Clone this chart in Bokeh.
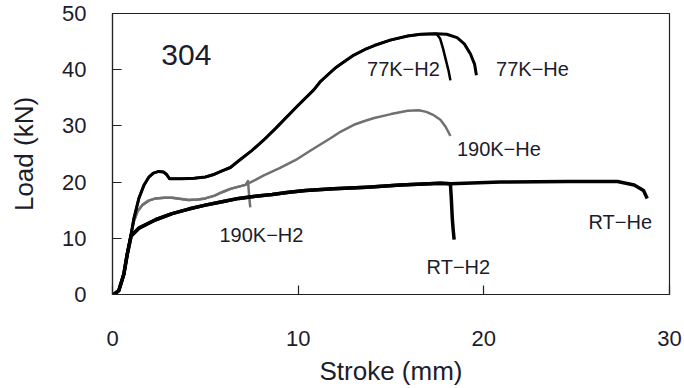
from bokeh.plotting import figure
from bokeh.models import FixedTicker, ColumnDataSource
from bokeh.core.properties import value
from bokeh.embed import file_html
from bokeh.resources import INLINE

# ---- data (Stroke mm, Load kN) ----
x_77k_h2 = [0.07, 0.34, 0.61, 0.79, 0.97, 1.15, 1.42, 1.7, 1.96, 2.2, 2.49, 2.75, 2.9, 3.07, 3.4, 3.75,
            4.4, 5.0, 5.5, 5.9, 6.35, 6.8, 7.5, 8.15, 8.8, 9.95, 10.84, 11.2, 12.0, 12.3, 13.0, 13.6, 14.1,
            15.0, 15.9, 16.6, 17.45, 17.65, 17.8, 17.95, 18.1, 18.2]
y_77k_h2 = [0, 0.7, 3.6, 7.1, 10.2, 13.5, 17.1, 19.5, 20.9, 21.6, 21.9, 21.8, 21.4, 20.6, 20.6, 20.6,
            20.7, 20.9, 21.4, 22.0, 22.6, 23.8, 25.6, 27.5, 29.6, 33.5, 36.4, 37.9, 40.3, 41.0, 42.6, 43.6, 44.3,
            45.3, 46.0, 46.3, 46.4, 45.5, 43.8, 41.8, 39.8, 38.1]
x_77k_he = [0.07, 0.34, 0.61, 0.79, 0.97, 1.15, 1.42, 1.7, 1.96, 2.2, 2.49, 2.75, 2.9, 3.07, 3.4, 3.75,
            4.4, 5.0, 5.5, 5.9, 6.35, 6.8, 7.5, 8.15, 8.8, 9.95, 10.84, 11.2, 12.0, 12.3, 13.0, 13.6, 14.1,
            15.0, 15.9, 16.6, 17.45, 18.0, 18.56, 18.95, 19.28, 19.5, 19.6]
y_77k_he = [0, 0.7, 3.6, 7.1, 10.2, 13.5, 17.1, 19.5, 20.9, 21.6, 21.9, 21.8, 21.4, 20.6, 20.6, 20.6,
            20.7, 20.9, 21.4, 22.0, 22.6, 23.8, 25.6, 27.5, 29.6, 33.5, 36.4, 37.9, 40.3, 41.0, 42.6, 43.6, 44.3,
            45.3, 46.0, 46.3, 46.4, 46.3, 45.7, 44.6, 42.8, 41.0, 39.0]

x_190k_he = [0.07, 0.34, 0.61, 0.79, 0.97, 1.15, 1.35, 1.6, 1.95, 2.32, 2.8, 3.21, 3.7, 4.1, 4.6, 5.0,
             5.5, 5.9, 6.35, 6.8, 7.16, 7.7, 8.15, 9.0, 9.95, 10.8, 11.74, 12.3, 13.0, 13.7, 14.1, 15.0,
             15.9, 16.5, 16.9, 17.3, 17.66, 17.95, 18.2]
y_190k_he = [0, 0.7, 3.6, 7.1, 10.2, 13.0, 14.8, 15.9, 16.7, 17.1, 17.2, 17.2, 17.0, 16.8, 16.9, 17.1,
             17.6, 18.2, 18.8, 19.2, 19.5, 20.4, 21.2, 22.5, 24.1, 25.9, 27.8, 29.0, 30.2, 31.0, 31.4, 32.1,
             32.7, 32.8, 32.5, 31.9, 31.1, 29.8, 28.2]
x_190k_h2 = [0.07, 0.34, 0.61, 0.79, 0.97, 1.15, 1.35, 1.6, 1.95, 2.32, 2.8, 3.21, 3.7, 4.1, 4.6, 5.0,
             5.5, 5.9, 6.35, 6.8, 7.16, 7.3, 7.36, 7.42]
y_190k_h2 = [0, 0.7, 3.6, 7.1, 10.2, 13.0, 14.8, 15.9, 16.7, 17.1, 17.2, 17.2, 17.0, 16.8, 16.9, 17.1,
             17.6, 18.2, 18.8, 19.2, 19.5, 20.2, 17.5, 15.5]

x_rt_h2 = [0.07, 0.34, 0.61, 0.79, 1.0, 1.42, 2.32, 3.21, 4.1, 5.0, 5.9, 6.8, 7.7, 8.6, 9.5, 10.4,
           11.9, 13.7, 15.5, 17.66, 18.2, 18.25, 18.3, 18.35, 18.4]
y_rt_h2 = [0, 0.7, 3.6, 7.1, 10.4, 11.8, 13.3, 14.4, 15.2, 15.9, 16.5, 17.1, 17.5, 17.8, 18.2, 18.5,
           18.8, 19.1, 19.5, 19.8, 19.7, 17.0, 13.6, 11.5, 9.75]
x_rt_he = [0.07, 0.34, 0.61, 0.79, 1.0, 1.42, 2.32, 3.21, 4.1, 5.0, 5.9, 6.8, 7.7, 8.6, 9.5, 10.4,
           11.9, 13.7, 15.5, 17.66, 18.2, 20.9, 24.5, 27.2, 28.1, 28.6, 28.8]
y_rt_he = [0, 0.7, 3.6, 7.1, 10.4, 11.8, 13.3, 14.4, 15.2, 15.9, 16.5, 17.1, 17.5, 17.8, 18.2, 18.5,
           18.8, 19.1, 19.5, 19.8, 19.7, 20.0, 20.1, 20.1, 19.5, 18.5, 17.1]

x_ticks = [0, 10, 20, 30]
y_ticks = [0, 10, 20, 30, 40, 50]

label_text = ["77K\u2212H2", "77K\u2212He", "190K\u2212He", "190K\u2212H2", "RT\u2212H2", "RT\u2212He"]
label_x = [15.67, 22.62, 20.81, 8.02, 18.63, 27.35]
label_y = [40.1, 40.1, 25.87, 10.5, 4.88, 12.87]

TEXT = "#1c1c2c"
FONT = "Liberation Sans"

p = figure(width=684, height=388, output_backend="svg", toolbar_location=None,
           x_range=(0, 30), y_range=(0, 50))
p.min_border_left = 112
p.min_border_right = 15
p.min_border_top = 13
p.min_border_bottom = 91

p.xgrid.visible = False
p.ygrid.visible = False
p.outline_line_color = "#222222"
p.outline_line_width = 1.2
p.background_fill_color = "white"
p.border_fill_color = "white"

for ax, ticks in ((p.xaxis[0], x_ticks), (p.yaxis[0], y_ticks)):
    ax.ticker = FixedTicker(ticks=ticks)
    ax.minor_tick_line_color = None
    ax.major_tick_in = 9
    ax.major_tick_out = 0
    ax.major_tick_line_color = "#222222"
    ax.major_tick_line_width = 1.2
    ax.axis_line_color = "#222222"
    ax.axis_line_width = 1.2
    ax.major_label_text_font = FONT
    ax.major_label_text_font_size = "22px"
    ax.major_label_text_color = TEXT
    ax.axis_label_text_font = FONT
    ax.axis_label_text_font_size = "26px"
    ax.axis_label_text_font_style = "normal"
    ax.axis_label_text_color = TEXT

p.xaxis.axis_label = "Stroke (mm)"
p.yaxis.axis_label = "Load (kN)"
p.xaxis.major_label_standoff = 36
p.xaxis.axis_label_standoff = 7
p.yaxis.major_label_standoff = 26
p.yaxis.axis_label_standoff = 20

GRAY = "#707070"
p.line(x_190k_he, y_190k_he, line_color=GRAY, line_width=2.5, line_join="round")
p.line(x_190k_h2, y_190k_h2, line_color=GRAY, line_width=2.5, line_join="round")
p.line(x_rt_he, y_rt_he, line_color="black", line_width=3.5, line_join="round")
p.line(x_rt_h2, y_rt_h2, line_color="black", line_width=3.5, line_join="round")
p.line(x_77k_he, y_77k_he, line_color="black", line_width=3, line_join="round")
p.line(x_77k_h2, y_77k_h2, line_color="black", line_width=2.5, line_join="round")

src = ColumnDataSource(dict(x=label_x, y=label_y, t=label_text))
p.text(x="x", y="y", text="t", source=src, text_font=value(FONT), text_font_size="20px",
       text_color=TEXT, text_align="center", text_baseline="middle")
p.text(x=[3.98], y=[42.55], text=["304"], text_font=value(FONT), text_font_size="30px",
       text_color=TEXT, text_align="center", text_baseline="middle")

open("out.html", "w").write(file_html(p, INLINE))
